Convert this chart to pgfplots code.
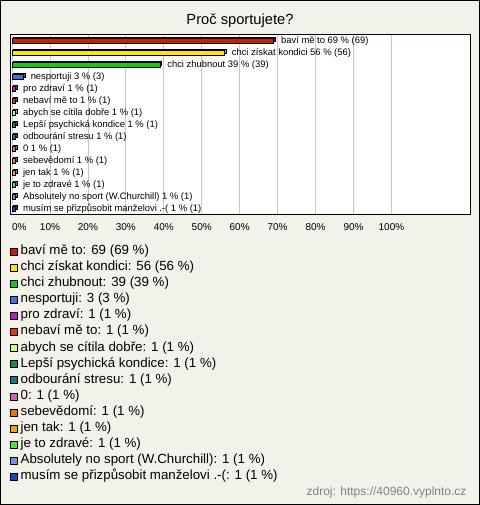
\documentclass[border=0pt]{standalone}
\usepackage{fontspec}
\setmainfont{Liberation Sans}
\usepackage{pgfplots}
\pgfplotsset{compat=1.18}
\definecolor{bg}{RGB}{243,242,234}
\definecolor{c1}{RGB}{200,30,10}
\definecolor{c2}{RGB}{255,230,0}
\definecolor{c3}{RGB}{20,200,20}
\definecolor{c4}{RGB}{70,110,230}
\definecolor{c5}{RGB}{200,20,200}
\definecolor{c6}{RGB}{220,60,10}
\definecolor{c7}{RGB}{200,255,120}
\definecolor{c8}{RGB}{20,140,80}
\definecolor{c9}{RGB}{20,120,140}
\definecolor{c10}{RGB}{200,100,200}
\definecolor{c11}{RGB}{230,120,10}
\definecolor{c12}{RGB}{230,170,10}
\definecolor{c13}{RGB}{80,230,50}
\definecolor{c14}{RGB}{110,150,220}
\definecolor{c15}{RGB}{30,70,180}
\makeatletter
\tikzset{nopre/.code={\let\tikz@preactions\pgfutil@empty}}
\makeatother
\pgfplotsset{b/.style={fill=#1, draw=black, line width=0.7bp,
  preaction={fill=#1!75!black, draw=black, line width=0.7bp, transform canvas={xshift=1.6bp,yshift=1.6bp}},
  legend image code/.code={\draw[nopre,fill=#1,draw=black,line width=0.6bp] (0bp,-3.5bp) rectangle (7bp,3.5bp);}}}
\begin{document}
\begin{tikzpicture}[x=1bp,y=1bp]
\fill[bg] (0,0) rectangle (480,505);
\draw[black,line width=1bp] (0.5,0.5) rectangle (479.5,504.5);
\useasboundingbox (0,0) rectangle (480,505);
\node[anchor=base,font=\fontsize{14.7bp}{17bp}\selectfont] at (240,480.5) {Proč sportujete?};
\node[anchor=base east,text=gray,font=\fontsize{12bp}{14bp}\selectfont] at (470,9) {zdroj: https://40960.vyplnto.cz};
\begin{axis}[
  at={(10.5bp,290bp)}, anchor=south west,
  scale only axis, width=459.5bp, height=180bp,
  xbar, bar width=4.6bp, bar shift=0pt,
  xmin=-0.4, xmax=120.7, ymin=-0.5, ymax=14.5, y dir=reverse,
  ytick=\empty,
  xtick={0,10,...,100},
  xticklabels={\makebox[0pt][l]{0\%},10\%,20\%,30\%,40\%,50\%,60\%,70\%,80\%,90\%,100\%},
  xticklabel style={font=\fontsize{10bp}{12bp}\selectfont, inner sep=0pt, yshift=-8bp},
  xmajorgrids, grid style={draw=black!22, line width=0.8bp},
  major tick length=0pt,
  axis line style={line width=1bp},
  axis background/.style={fill=white},
  clip=false,
  every node near coord/.append style={anchor=west, font=\fontsize{9.4bp}{10bp}\selectfont, inner sep=0pt, xshift=7bp},
  legend style={at={(-0.001,-0.1694)}, anchor=north west, draw=none, fill=none, inner sep=0pt, outer sep=0pt,
    row sep=4.1bp, column sep=3bp, font=\fontsize{13.3bp}{15bp}\selectfont,
    nodes={inner sep=0pt, text height=9bp, text depth=3bp}},
  legend cell align=left,
]
\addplot[b=c1, nodes near coords={baví mě to 69 \% (69)}] coordinates {(69,0)};
\addlegendentry{baví mě to: 69 (69 \%)}
\addplot[b=c2, nodes near coords={chci získat kondici 56 \% (56)}] coordinates {(56,1)};
\addlegendentry{chci získat kondici: 56 (56 \%)}
\addplot[b=c3, nodes near coords={chci zhubnout 39 \% (39)}] coordinates {(39,2)};
\addlegendentry{chci zhubnout: 39 (39 \%)}
\addplot[b=c4, nodes near coords={nesportuji 3 \% (3)}] coordinates {(3,3)};
\addlegendentry{nesportuji: 3 (3 \%)}
\addplot[b=c5, nodes near coords={pro zdraví 1 \% (1)}] coordinates {(1,4)};
\addlegendentry{pro zdraví: 1 (1 \%)}
\addplot[b=c6, nodes near coords={nebaví mě to 1 \% (1)}] coordinates {(1,5)};
\addlegendentry{nebaví mě to: 1 (1 \%)}
\addplot[b=c7, nodes near coords={abych se cítila dobře 1 \% (1)}] coordinates {(1,6)};
\addlegendentry{abych se cítila dobře: 1 (1 \%)}
\addplot[b=c8, nodes near coords={Lepší psychická kondice 1 \% (1)}] coordinates {(1,7)};
\addlegendentry{Lepší psychická kondice: 1 (1 \%)}
\addplot[b=c9, nodes near coords={odbourání stresu 1 \% (1)}] coordinates {(1,8)};
\addlegendentry{odbourání stresu: 1 (1 \%)}
\addplot[b=c10, nodes near coords={0 1 \% (1)}] coordinates {(1,9)};
\addlegendentry{0: 1 (1 \%)}
\addplot[b=c11, nodes near coords={sebevědomí 1 \% (1)}] coordinates {(1,10)};
\addlegendentry{sebevědomí: 1 (1 \%)}
\addplot[b=c12, nodes near coords={jen tak 1 \% (1)}] coordinates {(1,11)};
\addlegendentry{jen tak: 1 (1 \%)}
\addplot[b=c13, nodes near coords={je to zdravé 1 \% (1)}] coordinates {(1,12)};
\addlegendentry{je to zdravé: 1 (1 \%)}
\addplot[b=c14, nodes near coords={Absolutely no sport (W.Churchill) 1 \% (1)}] coordinates {(1,13)};
\addlegendentry{Absolutely no sport (W.Churchill): 1 (1 \%)}
\addplot[b=c15, nodes near coords={musím se přizpůsobit manželovi .-( 1 \% (1)}] coordinates {(1,14)};
\addlegendentry{musím se přizpůsobit manželovi .-(: 1 (1 \%)}
\end{axis}
\end{tikzpicture}
\end{document}
